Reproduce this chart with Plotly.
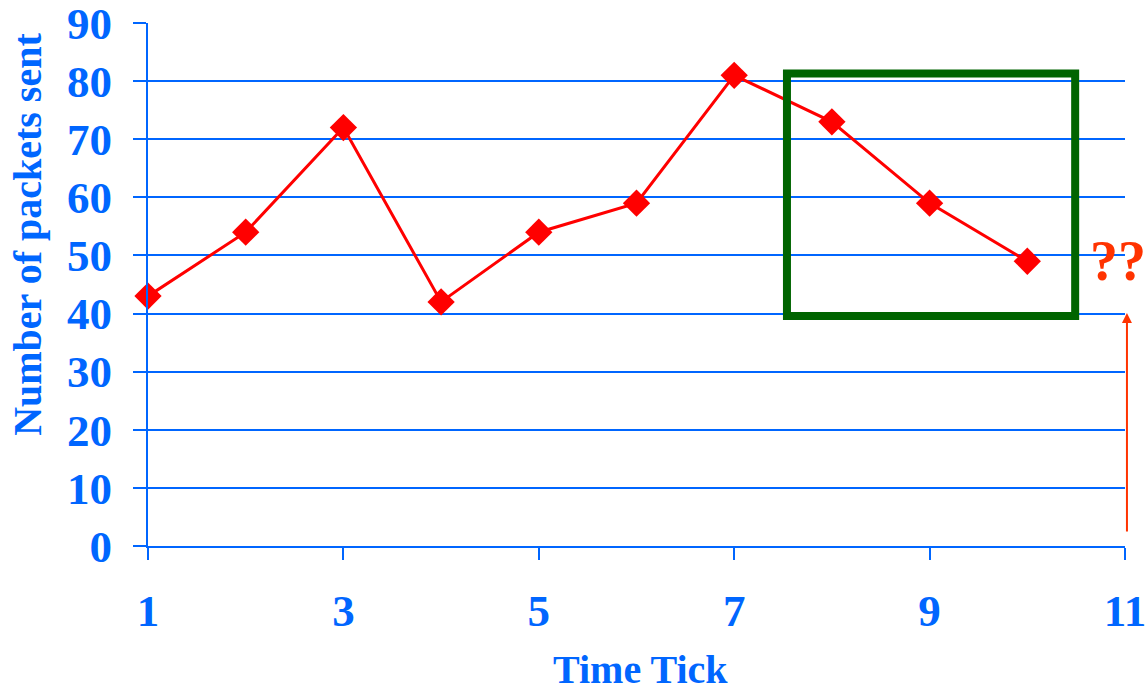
import plotly.graph_objects as go

# Packets sent per time tick
time_ticks = [1, 2, 3, 4, 5, 6, 7, 8, 9, 10]
packets_sent = [43, 54, 72, 42, 54, 59, 81, 73, 59, 49]

# Highlighted window (time range and packet range)
window_x = [7.54, 10.49]
window_y = [39.6, 81.3]

BLUE = "#0066FF"
RED = "#FF0000"
ORANGE = "#FF3300"
GREEN = "#006400"
FONT = "Liberation Serif"

fig = go.Figure()

fig.add_trace(go.Scatter(
    x=time_ticks,
    y=packets_sent,
    mode="lines+markers",
    line=dict(color=RED, width=3),
    marker=dict(symbol="diamond", size=21, color=RED),
    cliponaxis=False,
    showlegend=False,
))

fig.add_shape(
    type="rect", xref="x", yref="y",
    x0=window_x[0], x1=window_x[1], y0=window_y[0], y1=window_y[1],
    line=dict(color=GREEN, width=8),
)

# Upward arrow at the next (unknown) tick
fig.add_annotation(
    x=1.002, y=0.4455, xref="paper", yref="paper",
    ax=0, ay=220, axref="pixel", ayref="pixel",
    showarrow=True, arrowhead=2, arrowsize=1, arrowwidth=2,
    arrowcolor=ORANGE, text="",
)

fig.add_annotation(
    x=0.962, y=0.545, xref="paper", yref="paper",
    text="<b>??</b>", showarrow=False, xanchor="left", yanchor="middle",
    font=dict(family=FONT, size=56, color=ORANGE),
)

# Axis titles
fig.add_annotation(
    x=0.5046, y=-0.2365, xref="paper", yref="paper",
    text="<b>Time Tick</b>", showarrow=False, xanchor="center", yanchor="middle",
    font=dict(family=FONT, size=40, color=BLUE),
)
fig.add_annotation(
    x=-0.1228, y=0.595, xref="paper", yref="paper",
    text="<b>Number of packets sent</b>", showarrow=False, textangle=-90,
    xanchor="center", yanchor="middle",
    font=dict(family=FONT, size=40, color=BLUE),
)

fig.update_layout(
    width=1147, height=693,
    margin=dict(l=148, r=22, t=23, b=147),
    paper_bgcolor="white", plot_bgcolor="white",
    font=dict(family=FONT, color=BLUE),
    xaxis=dict(
        range=[1, 11], tick0=1, dtick=2, automargin=False,
        showgrid=False, zeroline=False,
        showline=True, linecolor=BLUE, linewidth=2,
        ticks="outside", ticklen=12, tickwidth=2, tickcolor=BLUE,
        tickfont=dict(family=FONT, size=45, color=BLUE, weight="bold"),
        ticklabelstandoff=12, ticklabeloverflow="allow",
    ),
    yaxis=dict(
        range=[0, 90], dtick=10, automargin=False,
        showgrid=True, gridcolor=BLUE, gridwidth=2, zeroline=False,
        showline=True, linecolor=BLUE, linewidth=2,
        ticks="outside", ticklen=13, tickwidth=2, tickcolor=BLUE,
        tickfont=dict(family=FONT, size=45, color=BLUE, weight="bold"),
        ticklabelstandoff=12, ticklabeloverflow="allow",
    ),
)

fig.write_html("out.html")
